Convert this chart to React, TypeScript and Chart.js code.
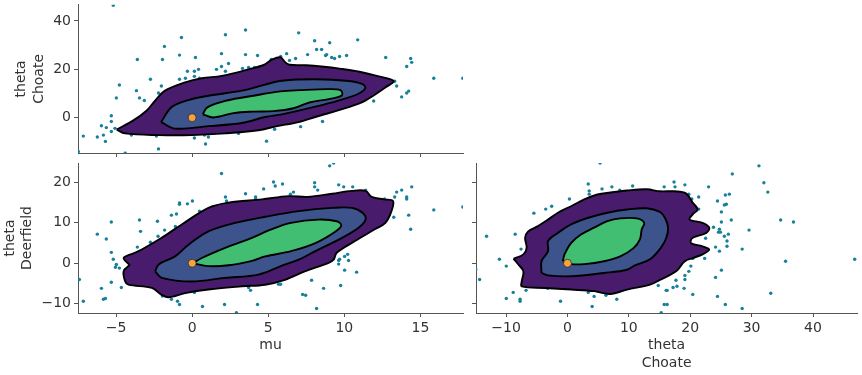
import { useEffect, useRef } from "react";
import { Chart, registerables } from "chart.js";

Chart.register(...registerables);

type Pt = [number, number];

// ---------- axis ranges & ticks ----------
const MU_RANGE = [-7.5, 17.8];
const THETA_C_RANGE_Y = [-14.6, 46.7];
const THETA_C_RANGE_X = [-14.9, 47.2];
const THETA_D_RANGE = [-12.3, 24.8];
const MU_TICKS = [-5, 0, 5, 10, 15];
const THETA_C_TICKS_Y = [0, 20, 40];
const THETA_C_TICKS_X = [-10, 0, 10, 20, 30, 40];
const THETA_D_TICKS = [-10, 0, 10, 20];
const REFERENCE: Pt = [0, 0];

// ---------- top-left: mu vs theta Choate ----------
const TL_SCATTER: Pt[] = [
  [-5.18, 46.5], [-7.48, -14], [-7.15, -7.6], [-6.23, -8.0], [-5.83, -7.2], [-5.7, -9.8], [-5.96, -3.3],
  [-5.64, -4.1], [-5.31, -5.7], [-5.31, -1.6], [-5.31, 0.8], [-5.07, -4.4], [-4.98, 8.2], [-4.78, 13.5],
  [-4.4, -14.7], [-3.99, -7.2], [-3.66, 11.2], [-3.6, 24.1], [-3.46, 8.2], [-3.14, 7.1], [-2.74, 15.9],
  [-2.35, -7.6], [-2.21, -12.9], [-2.21, 10.2], [-2.02, 13.1], [-1.95, 24.1], [-1.82, 29.5], [-0.83, 25.9],
  [-0.83, 15.9], [-0.7, 33.2], [-0.44, 16.3], [-0.31, 19.2], [0.15, 19.2], [0.15, 17.1], [0.22, 24.9],
  [0.42, 20.0], [0.15, -8.4], [0.48, 16.3], [0.81, -7.2], [0.88, -10.9], [1.07, -8.0], [1.6, 20.0],
  [1.93, 21.2], [1.93, 26.5], [2.19, 34.3], [2.19, 19.2], [2.39, 22.4], [3.05, -6.5], [3.31, 20.4],
  [3.51, 36.3], [3.51, 26.1], [3.71, 20.8], [4.1, 20.8], [4.3, 25.7], [4.89, -9.7], [5.2, 24.1],
  [5.42, -4.8], [7.0, 35.1], [8.05, 31.8], [9.04, 31.0], [8.18, 28.2], [8.51, 28.2], [6.21, 26.5],
  [5.82, 25.3], [7.59, 26.1], [8.84, 26.1], [8.77, 25.7], [9.17, 24.9], [9.36, 24.5], [9.69, 25.3],
  [10.15, 25.7], [10.88, 32.2], [6.4, 23.7], [6.8, 24.5], [12.72, 24.9], [14.1, 21.2], [14.36, 24.5],
  [14.43, 22.9], [13.31, 15.1], [13.44, 13.1], [13.77, 8.6], [14.1, 10.2], [14.23, 11.0], [11.93, 6.9],
  [15.88, 16.3], [17.79, 16.3], [8.57, -1.6], [7.13, -3.7],
];
const TL_OUTER: Pt[] = [
  [-4.96, -4.9], [-3.86, -1.1], [-2.98, 3.0], [-2.43, 7.1], [-1.78, 11.2], [-0.46, 14.6], [0.64, 16.3],
  [1.95, 17.3], [3.71, 20.0], [4.7, 21.8], [5.24, 24.0], [5.8, 25.0], [6.1, 23.0], [6.4, 21.9], [7.5, 21.7],
  [8.5, 21.2], [9.8, 20.2], [11.0, 19.0], [12.2, 17.2], [13.24, 15.2], [12.7, 12.5], [11.38, 7.1],
  [10.29, 4.4], [8.1, 0.3], [7.0, -1.8], [5.5, -3.6], [4.36, -5.2], [2.17, -6.5], [-0.02, -7.2],
  [-2.21, -7.2], [-4.41, -6.5],
];
const TL_MID: Pt[] = [
  [-2.04, -1.8], [-1.34, 4.4], [-0.24, 7.3], [1.07, 9.1], [3.27, 11.2], [4.8, 13.7], [5.9, 15.3],
  [8.1, 15.9], [10.3, 15.2], [11.2, 13.9], [11.38, 12.2], [10.9, 9.8], [9.6, 7.1], [8.1, 4.6],
  [5.9, 1.4], [4.8, 0.3], [3.27, -2.2], [1.07, -3.5], [-1.12, -4.5],
];
const TL_INNER: Pt[] = [
  [0.7, 1.4], [1.0, 4.3], [2.28, 7.1], [4.03, 9.1], [5.79, 10.9], [7.11, 11.4], [8.86, 11.8], [9.74, 11.4],
  [9.85, 9.3], [9.08, 7.8], [7.76, 6.4], [6.66, 3.9], [5.35, 2.7], [4.03, 2.5], [2.72, 1.9], [1.4, 0.1],
];

// ---------- bottom-left: mu vs theta Deerfield ----------
const BL_SCATTER: Pt[] = [
  [1.93, 22.2], [5.35, 20.1], [5.46, 19.1], [3.51, 17.2], [4.7, 18.4], [2.19, 16.4], [2.26, 15.4],
  [4.17, 16.4], [4.17, 15.9], [0.02, 15.4], [-0.31, 14.7], [-0.83, 14.9], [-0.83, 14.6], [0.48, 12.9],
  [1.34, 13.9], [-1.03, 12.2], [-1.36, 11.9], [0.15, 11.2], [-2.28, 10.4], [-3.46, 10.7], [-5.31, 10.2],
  [-3.39, 7.9], [-1.81, 8.2], [-1.1, 9.1], [-2.24, 6.7], [-6.23, 7.2], [-5.64, 6.0], [-3.6, 4.0],
  [-2.74, 5.2], [-5.31, 2.7], [-5.18, 1.0], [-4.98, -0.3], [-5.04, -1.0], [-4.78, -1.2], [-4.39, -1.5],
  [-7.41, -4.0], [-5.31, -4.7], [-4.65, -6.0], [-5.96, -6.2], [-7.15, -9.4], [-5.83, -8.9], [-5.7, -8.7],
  [-1.95, -8.1], [-1.36, -8.9], [-0.96, -9.4], [-0.83, -10.2], [-1.03, -7.2], [0.15, -7.2], [0.68, -10.7],
  [1.73, -6.0], [2.13, -10.2], [2.65, -5.5], [3.05, -5.5], [3.71, -6.0], [3.84, -6.7], [2.91, -12.2],
  [4.3, -10.2], [9.04, 24.1], [9.3, 24.8], [5.94, 19.6], [6.46, 17.1], [6.66, 17.6], [8.05, 19.9],
  [8.05, 18.9], [8.25, 18.1], [9.63, 19.4], [9.96, 18.9], [10.55, 18.9], [11.4, 18.1], [12.65, 15.9],
  [13.31, 16.4], [13.44, 17.6], [13.77, 18.1], [14.1, 16.4], [14.1, 15.9], [14.43, 18.9], [13.25, 11.4],
  [14.23, 11.9], [14.36, 8.4], [15.88, 13.2], [17.79, 13.9], [9.63, 0.7], [9.63, -0.2], [9.69, 1.0],
  [10.02, 1.7], [10.22, 2.2], [10.28, 0.7], [10.02, -1.7], [10.81, -2.2], [7.85, -4.2], [9.76, -5.5],
  [8.64, -6.2], [7.26, -7.7], [7.46, -7.9], [8.18, -11.2], [5.68, -5.2], [5.81, -5.2],
];
const BL_OUTER: Pt[] = [
  [-4.1, -0.4], [-4.5, 1.3], [-3.9, 2.4], [-3.31, 3.4], [-2.0, 6.3], [-0.68, 9.6], [1.07, 13.7],
  [2.39, 15.0], [4.58, 15.8], [6.34, 16.6], [7.6, 16.4], [9.2, 17.2], [10.5, 17.9], [11.4, 17.9],
  [11.8, 16.4], [12.6, 15.8], [13.2, 15.4], [13.1, 12.9], [12.7, 10.0], [12.0, 8.4], [10.7, 5.5],
  [9.5, 2.6], [9.3, 0.9], [8.97, 0.1], [7.4, -2.0], [6.1, -4.1], [4.8, -5.3], [3.27, -5.7], [1.07, -6.5],
  [-0.46, -7.4], [-1.56, -8.4], [-2.0, -7.8], [-2.65, -6.1], [-4.19, -5.3], [-4.4, -4.5], [-4.5, -2.0],
];
const BL_MID: Pt[] = [
  [-2.43, -2.0], [-2.2, -0.3], [-1.12, 1.7], [-0.24, 4.6], [1.07, 7.9], [2.83, 10.0], [4.8, 11.5],
  [7.0, 12.9], [9.2, 13.7], [10.5, 13.7], [11.2, 12.5], [11.4, 10.8], [10.94, 8.8], [9.85, 6.3],
  [8.1, 3.0], [7.0, 0.9], [5.9, -0.6], [4.36, -2.8], [2.17, -3.6], [-0.02, -4.5], [-2.0, -3.6],
];
const BL_INNER: Pt[] = [
  [0.05, 0.0], [0.64, 1.3], [2.17, 3.8], [3.93, 6.3], [5.2, 8.4], [6.5, 10.0], [8.3, 10.8], [9.5, 10.4],
  [9.8, 9.4], [9.4, 7.8], [8.1, 5.0], [6.5, 3.0], [4.8, 1.7], [3.93, 0.6], [2.39, -0.5], [1.07, -0.7],
];

// ---------- bottom-right: theta Choate vs theta Deerfield ----------
const BR_SCATTER: Pt[] = [
  [5.31, 24.8], [3.38, 19.6], [3.54, 17.9], [3.54, 17.1], [5.63, 18.4], [7.23, 18.9], [8.52, 18.1],
  [10.61, 19.1], [13.5, 18.1], [15.76, 18.9], [0.32, 15.9], [-2.57, 14.1], [-3.54, 13.4], [-5.47, 12.4],
  [-8.52, 7.2], [-13.18, 6.7], [-7.56, 3.5], [-11.09, 1.0], [-9.97, -0.7], [-14.95, -1.5], [-14.31, -4.0],
  [-6.75, -6.7], [-8.84, -7.2], [-9.97, -8.7], [-7.72, -8.9], [-7.72, -9.4], [-3.22, -6.2], [-0.32, -6.2],
  [-1.13, -9.4], [3.38, -7.2], [4.34, -8.2], [4.98, -6.9], [5.95, -6.9], [6.27, -7.9], [4.02, -10.7],
  [8.04, -8.9], [9.65, -6.0], [10.77, -5.5], [13.02, -5.0], [14.79, -5.5], [16.08, -6.7], [15.76, -10.2],
  [16.24, -10.2], [15.27, -12.2], [31.19, 24.1], [26.85, 22.1], [32.0, 19.9], [32.64, 17.6], [17.36, 20.1],
  [17.52, 18.9], [19.13, 19.4], [22.99, 18.9], [19.77, 17.1], [20.26, 15.9], [21.38, 16.4], [21.38, 13.4],
  [24.44, 15.4], [25.08, 12.7], [25.56, 14.4], [25.88, 14.6], [25.72, 16.9], [26.37, 17.1], [26.69, 10.7],
  [25.08, 10.2], [23.79, 8.9], [24.76, 8.4], [24.6, 7.7], [24.92, 7.7], [25.56, 6.7], [26.21, 7.2],
  [22.51, 6.2], [25.99, 5.5], [25.99, 4.2], [24.12, 4.0], [24.76, 3.0], [28.46, 3.5], [29.58, 8.2],
  [34.73, 10.7], [36.82, 10.2], [35.53, 0.5], [46.79, 1.0], [22.35, 1.2], [20.42, 1.2], [19.13, 0.7],
  [20.1, -0.7], [19.77, -2.0], [19.13, -3.0], [19.13, -4.0], [17.68, -4.2], [17.2, -6.0], [17.84, -5.7],
  [19.0, -6.2], [16.24, -6.7], [20.42, -7.7], [25.08, -1.7], [24.12, -3.5], [24.44, -8.2], [25.72, -10.2],
  [28.46, -11.2], [33.12, -7.4],
];
const BR_OUTER: Pt[] = [
  [-8.79, 1.1], [-7.18, 2.2], [-6.65, 3.8], [-6.9, 6.3], [-6.4, 7.9], [-4.8, 9.2], [-3.16, 10.8],
  [-1.55, 12.5], [0.59, 14.1], [2.73, 15.8], [4.88, 17.0], [7.0, 17.5], [9.7, 18.0], [12.9, 18.3],
  [15.06, 17.8], [17.5, 17.8], [19.3, 17.3], [20.4, 15.0], [21.2, 13.3], [20.4, 12.1], [19.9, 10.8],
  [22.0, 10.0], [23.1, 8.8], [22.6, 7.5], [20.4, 6.3], [20.1, 5.0], [22.0, 4.2], [23.1, 3.4], [22.0, 2.2],
  [20.4, 1.3], [19.1, 0.5], [17.7, -2.0], [15.06, -4.1], [13.45, -5.3], [9.7, -6.5], [7.0, -7.6],
  [4.34, -6.9], [0.59, -6.5], [-3.7, -6.1], [-7.45, -5.7], [-7.45, -4.5], [-7.18, -2.0], [-8.0, -0.3],
];
const BR_MID: Pt[] = [
  [-4.23, -2.4], [-4.23, 0.5], [-3.16, 3.0], [-3.16, 5.5], [-1.55, 7.5], [0.59, 9.6], [3.27, 11.2],
  [6.5, 12.5], [9.7, 13.3], [12.9, 13.6], [15.06, 12.7], [15.9, 11.2], [16.4, 8.8], [16.1, 6.3],
  [15.3, 4.0], [13.45, 1.0], [11.0, -0.5], [9.7, -1.6], [5.95, -2.4], [0.59, -3.2], [-3.16, -3.0],
];
const BR_INNER: Pt[] = [
  [-0.75, 0.5], [-0.48, 2.2], [0.59, 5.0], [2.2, 7.1], [4.34, 8.8], [6.5, 10.4], [8.6, 11.1], [11.3, 11.1],
  [12.5, 10.0], [12.1, 8.4], [11.8, 5.9], [10.8, 3.8], [8.6, 1.7], [5.95, 0.5], [2.73, -0.2], [0.59, -0.2],
];

// ---------- styling ----------
const W = 862;
const H = 375;
const FONT = { family: "'DejaVu Sans', sans-serif", size: 14, lineHeight: 1.25 };
const TEXT = "#333333";
const AXIS = "#555555";
const LEVEL_COLORS = ["#481b6d", "#3c538b", "#41be72"]; // outer, mid, inner
const DOT = "#17819b";
const REF_COLOR = "#f6a23f";

const fmt = (v: number) => (v < 0 ? "\u2212" + Math.abs(v) : String(v));

interface Panel {
  padding: { left: number; top: number; right: number; bottom: number };
  yWidth: number;
  xHeight: number;
  xRange: number[];
  yRange: number[];
  xTicks: number[];
  yTicks: number[];
  showXLabels: boolean;
  showYLabels: boolean;
  xTitle?: string[];
  yTitle?: string[];
  yTitlePad?: number;
  scatter: Pt[];
  contours: Pt[][];
}

function buildConfig(p: Panel): any {
  const xy = (pts: Pt[]) => pts.map(([x, y]) => ({ x, y }));
  const loop = (pts: Pt[]) => xy([...pts, pts[0]]);
  const datasets: any[] = [
    {
      type: "scatter",
      data: xy([REFERENCE]),
      pointRadius: 4,
      pointBackgroundColor: REF_COLOR,
      pointBorderColor: "#2a2a2a",
      pointBorderWidth: 0.8,
    },
  ];
  [2, 1, 0].forEach((i) => {
    datasets.push({
      type: "line",
      data: loop(p.contours[i]),
      borderColor: "#000000",
      borderWidth: 1.9,
      backgroundColor: LEVEL_COLORS[i],
      fill: "shape",
      pointRadius: 0,
      tension: 0.35,
    });
  });
  datasets.push({
    type: "scatter",
    data: xy(p.scatter),
    pointRadius: 1.7,
    pointBackgroundColor: DOT,
    pointBorderWidth: 0,
  });

  const tickOpts = (show: boolean) => ({
    autoSkip: false,
    maxRotation: 0,
    padding: 3,
    color: TEXT,
    font: FONT,
    callback: (v: any) => (show ? fmt(Number(v)) : ""),
  });
  const gridOpts = {
    display: true,
    drawOnChartArea: false,
    drawTicks: true,
    tickLength: 4,
    tickWidth: 1,
    tickColor: AXIS,
  };

  return {
    type: "scatter",
    data: { datasets },
    options: {
      responsive: false,
      maintainAspectRatio: false,
      animation: false,
      events: [],
      layout: { padding: p.padding },
      plugins: { legend: { display: false }, tooltip: { enabled: false } },
      scales: {
        x: {
          type: "linear",
          position: "bottom",
          min: p.xRange[0],
          max: p.xRange[1],
          afterBuildTicks: (s: any) => {
            s.ticks = p.xTicks.map((value) => ({ value }));
          },
          afterFit: (s: any) => {
            s.height = p.xHeight;
            s.paddingLeft = 0;
            s.paddingRight = 0;
            s.paddingTop = 0;
            s.paddingBottom = 0;
          },
          grid: gridOpts,
          border: { display: true, color: AXIS, width: 1 },
          ticks: tickOpts(p.showXLabels),
          title: {
            display: !!p.xTitle,
            text: p.xTitle || "",
            color: TEXT,
            font: FONT,
            padding: { top: 0, bottom: 0 },
          },
        },
        y: {
          type: "linear",
          position: "left",
          min: p.yRange[0],
          max: p.yRange[1],
          afterBuildTicks: (s: any) => {
            s.ticks = p.yTicks.map((value) => ({ value }));
          },
          afterFit: (s: any) => {
            s.width = p.yWidth;
            s.paddingLeft = 0;
            s.paddingRight = 0;
            s.paddingTop = 0;
            s.paddingBottom = 0;
          },
          grid: gridOpts,
          border: { display: true, color: AXIS, width: 1 },
          ticks: tickOpts(p.showYLabels),
          title: {
            display: !!p.yTitle,
            text: p.yTitle || "",
            color: TEXT,
            font: FONT,
            padding: { top: p.yTitlePad || 0, bottom: 0 },
          },
        },
      },
    },
  };
}

const PANEL_TL: Panel = {
  padding: { left: 0, top: 3, right: 399, bottom: 216 },
  yWidth: 78,
  xHeight: 6,
  xRange: MU_RANGE,
  yRange: THETA_C_RANGE_Y,
  xTicks: MU_TICKS,
  yTicks: THETA_C_TICKS_Y,
  showXLabels: false,
  showYLabels: true,
  yTitle: ["theta", "Choate"],
  yTitlePad: 13,
  scatter: TL_SCATTER,
  contours: [TL_OUTER, TL_MID, TL_INNER],
};

const PANEL_BL: Panel = {
  padding: { left: 0, top: 163, right: 399, bottom: 20.5 },
  yWidth: 78,
  xHeight: 41.5,
  xRange: MU_RANGE,
  yRange: THETA_D_RANGE,
  xTicks: MU_TICKS,
  yTicks: THETA_D_TICKS,
  showXLabels: true,
  showYLabels: true,
  xTitle: ["mu"],
  yTitle: ["theta", "Deerfield"],
  yTitlePad: 1.25,
  scatter: BL_SCATTER,
  contours: [BL_OUTER, BL_MID, BL_INNER],
};

const PANEL_BR: Panel = {
  padding: { left: 468, top: 163, right: 0, bottom: 3 },
  yWidth: 8,
  xHeight: 59,
  xRange: THETA_C_RANGE_X,
  yRange: THETA_D_RANGE,
  xTicks: THETA_C_TICKS_X,
  yTicks: THETA_D_TICKS,
  showXLabels: true,
  showYLabels: false,
  xTitle: ["theta", "Choate"],
  scatter: BR_SCATTER,
  contours: [BR_OUTER, BR_MID, BR_INNER],
};

export default function App() {
  const r1 = useRef<HTMLCanvasElement>(null);
  const r2 = useRef<HTMLCanvasElement>(null);
  const r3 = useRef<HTMLCanvasElement>(null);

  useEffect(() => {
    const charts = [
      new Chart(r1.current as HTMLCanvasElement, buildConfig(PANEL_TL)),
      new Chart(r2.current as HTMLCanvasElement, buildConfig(PANEL_BL)),
      new Chart(r3.current as HTMLCanvasElement, buildConfig(PANEL_BR)),
    ];
    return () => charts.forEach((c) => c.destroy());
  }, []);

  const cs = { position: "absolute" as const, left: 0, top: 0 };
  return (
    <div style={{ position: "absolute", left: 0, top: 0, width: W, height: H, background: "#ffffff" }}>
      <canvas ref={r1} width={W} height={H} style={cs} />
      <canvas ref={r2} width={W} height={H} style={cs} />
      <canvas ref={r3} width={W} height={H} style={cs} />
    </div>
  );
}
